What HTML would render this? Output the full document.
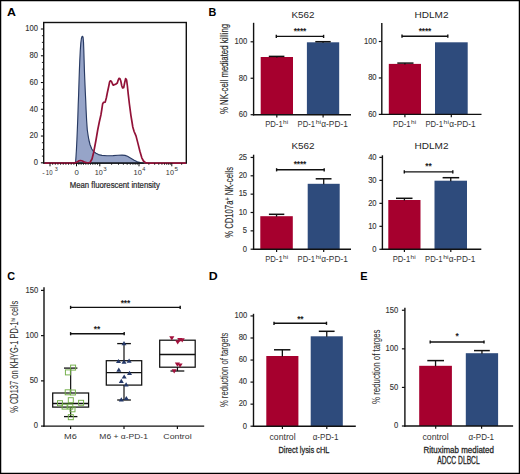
<!DOCTYPE html>
<html><head><meta charset="utf-8"><style>
html,body{margin:0;padding:0;background:#fff;}
body{width:520px;height:474px;overflow:hidden;}
svg{display:block;font-family:"Liberation Sans",sans-serif;}
</style></head><body>
<svg width="520" height="474" viewBox="0 0 520 474">
<rect x="0" y="0" width="520" height="474" fill="#fff"/>
<text x="6.99" y="15.9" font-size="11.2" fill="#000" font-weight="bold" textLength="8.95" lengthAdjust="spacingAndGlyphs">A</text>
<text x="208.6" y="16" font-size="11.2" fill="#000" font-weight="bold" textLength="7.81" lengthAdjust="spacingAndGlyphs">B</text>
<text x="7.27" y="279.7" font-size="11.2" fill="#000" font-weight="bold" textLength="7.83" lengthAdjust="spacingAndGlyphs">C</text>
<text x="208.8" y="279.6" font-size="11.2" fill="#000" font-weight="bold" textLength="8.92" lengthAdjust="spacingAndGlyphs">D</text>
<text x="360.29" y="279.7" font-size="11.2" fill="#000" font-weight="bold" textLength="7.32" lengthAdjust="spacingAndGlyphs">E</text>
<path d="M44.5 163.1 L74.5 163.1 L75.6 162.4 L75.9 158 L76.4 150 L76.9 140 L77.4 128 L77.8 118 L78.2 105 L78.6 95 L79 82 L79.4 70 L79.8 60 L80.3 50 L80.8 43 L81.4 38.5 L82 36.6 L82.6 36.3 L83.1 37.5 L83.5 42 L83.8 50 L84.1 60 L84.4 70 L84.8 80 L85.3 92 L85.7 100 L86.1 110 L86.6 120 L87.3 130 L88.2 136 L88.9 140 L90 144.5 L91.8 149 L93.5 151.5 L96 153.3 L98.5 154.6 L102 155.4 L107 155.8 L113 155.6 L118 155.3 L122 155.1 L125 155.4 L127.5 156.3 L130.4 158 L134.2 160.3 L137.3 161.8 L140.4 162.6 L143.5 163.1 Z" fill="#96a4c8" stroke="#283a63" stroke-width="1.15" stroke-linejoin="round"/>
<rect x="43.7" y="22.5" width="142.6" height="140.6" fill="none" stroke="#111" stroke-width="1.4"/>
<path d="M44.5 163.1 L74 163.1 L77 162.1 L79 160.8 L80.5 160.5 L82.5 161 L84.5 162.2 L87 162.8 L90 162.5 L92 159 L93.5 153 L94.5 148 L96 140 L97.7 130 L99.3 122 L100.9 115 L101.8 109.5 L102.6 104 L103.5 102.4 L105.2 102.1 L106.3 98 L107.5 92 L108.7 86.5 L109.6 82 L110.4 80.8 L111.5 81.5 L112.5 84 L113.3 85.2 L114.5 84.6 L115.6 84.2 L117.3 83 L118.2 80 L119 78.3 L120 78.8 L120.8 81 L121.8 86 L122.6 87.8 L123.7 87.6 L124.6 83 L125.6 78.6 L126.6 80 L127.4 86 L128.3 94.6 L129.4 104 L130.9 115.3 L132 122 L132.8 127 L134.1 131.5 L136 135.9 L138 143.6 L139.9 151.3 L141.8 157.8 L143.5 161 L145.5 162.6 L148 163.1 L186 163.1" fill="none" stroke="#921238" stroke-width="1.7" stroke-linejoin="round"/>
<line x1="40.9" y1="162.8" x2="43.7" y2="162.8" stroke="#111" stroke-width="1.1"/>
<text x="33.77" y="165.1" font-size="8.2" fill="#333" stroke="#333" stroke-width="0.12" textLength="4.24" lengthAdjust="spacingAndGlyphs">0</text>
<line x1="41.9" y1="156.11" x2="43.7" y2="156.11" stroke="#111" stroke-width="0.9"/>
<line x1="41.9" y1="149.42" x2="43.7" y2="149.42" stroke="#111" stroke-width="0.9"/>
<line x1="41.9" y1="142.73" x2="43.7" y2="142.73" stroke="#111" stroke-width="0.9"/>
<line x1="40.9" y1="136.04" x2="43.7" y2="136.04" stroke="#111" stroke-width="1.1"/>
<text x="29.54" y="138.34" font-size="8.2" fill="#333" stroke="#333" stroke-width="0.12" textLength="8.48" lengthAdjust="spacingAndGlyphs">20</text>
<line x1="41.9" y1="129.35" x2="43.7" y2="129.35" stroke="#111" stroke-width="0.9"/>
<line x1="41.9" y1="122.66" x2="43.7" y2="122.66" stroke="#111" stroke-width="0.9"/>
<line x1="41.9" y1="115.97" x2="43.7" y2="115.97" stroke="#111" stroke-width="0.9"/>
<line x1="40.9" y1="109.28" x2="43.7" y2="109.28" stroke="#111" stroke-width="1.1"/>
<text x="29.54" y="111.58" font-size="8.2" fill="#333" stroke="#333" stroke-width="0.12" textLength="8.48" lengthAdjust="spacingAndGlyphs">40</text>
<line x1="41.9" y1="102.59" x2="43.7" y2="102.59" stroke="#111" stroke-width="0.9"/>
<line x1="41.9" y1="95.9" x2="43.7" y2="95.9" stroke="#111" stroke-width="0.9"/>
<line x1="41.9" y1="89.21" x2="43.7" y2="89.21" stroke="#111" stroke-width="0.9"/>
<line x1="40.9" y1="82.52" x2="43.7" y2="82.52" stroke="#111" stroke-width="1.1"/>
<text x="29.54" y="84.82" font-size="8.2" fill="#333" stroke="#333" stroke-width="0.12" textLength="8.48" lengthAdjust="spacingAndGlyphs">60</text>
<line x1="41.9" y1="75.83" x2="43.7" y2="75.83" stroke="#111" stroke-width="0.9"/>
<line x1="41.9" y1="69.14" x2="43.7" y2="69.14" stroke="#111" stroke-width="0.9"/>
<line x1="41.9" y1="62.45" x2="43.7" y2="62.45" stroke="#111" stroke-width="0.9"/>
<line x1="40.9" y1="55.76" x2="43.7" y2="55.76" stroke="#111" stroke-width="1.1"/>
<text x="29.54" y="58.06" font-size="8.2" fill="#333" stroke="#333" stroke-width="0.12" textLength="8.48" lengthAdjust="spacingAndGlyphs">80</text>
<line x1="41.9" y1="49.07" x2="43.7" y2="49.07" stroke="#111" stroke-width="0.9"/>
<line x1="41.9" y1="42.38" x2="43.7" y2="42.38" stroke="#111" stroke-width="0.9"/>
<line x1="41.9" y1="35.69" x2="43.7" y2="35.69" stroke="#111" stroke-width="0.9"/>
<line x1="40.9" y1="29" x2="43.7" y2="29" stroke="#111" stroke-width="1.1"/>
<text x="25.31" y="31.3" font-size="8.2" fill="#333" stroke="#333" stroke-width="0.12" textLength="12.72" lengthAdjust="spacingAndGlyphs">100</text>
<line x1="52.65" y1="163.1" x2="52.65" y2="165" stroke="#111" stroke-width="0.7"/>
<line x1="55.3" y1="163.1" x2="55.3" y2="165" stroke="#111" stroke-width="0.7"/>
<line x1="57.95" y1="163.1" x2="57.95" y2="165" stroke="#111" stroke-width="0.7"/>
<line x1="60.6" y1="163.1" x2="60.6" y2="165" stroke="#111" stroke-width="0.7"/>
<line x1="63.25" y1="163.1" x2="63.25" y2="165" stroke="#111" stroke-width="0.7"/>
<line x1="65.9" y1="163.1" x2="65.9" y2="165" stroke="#111" stroke-width="0.7"/>
<line x1="68.55" y1="163.1" x2="68.55" y2="165" stroke="#111" stroke-width="0.7"/>
<line x1="71.2" y1="163.1" x2="71.2" y2="165" stroke="#111" stroke-width="0.7"/>
<line x1="73.85" y1="163.1" x2="73.85" y2="165" stroke="#111" stroke-width="0.7"/>
<line x1="78.83" y1="163.1" x2="78.83" y2="165" stroke="#111" stroke-width="0.7"/>
<line x1="81.16" y1="163.1" x2="81.16" y2="165" stroke="#111" stroke-width="0.7"/>
<line x1="83.49" y1="163.1" x2="83.49" y2="165" stroke="#111" stroke-width="0.7"/>
<line x1="85.82" y1="163.1" x2="85.82" y2="165" stroke="#111" stroke-width="0.7"/>
<line x1="88.15" y1="163.1" x2="88.15" y2="165" stroke="#111" stroke-width="0.7"/>
<line x1="90.48" y1="163.1" x2="90.48" y2="165" stroke="#111" stroke-width="0.7"/>
<line x1="92.81" y1="163.1" x2="92.81" y2="165" stroke="#111" stroke-width="0.7"/>
<line x1="95.14" y1="163.1" x2="95.14" y2="165" stroke="#111" stroke-width="0.7"/>
<line x1="97.47" y1="163.1" x2="97.47" y2="165" stroke="#111" stroke-width="0.7"/>
<line x1="111.6" y1="163.1" x2="111.6" y2="165" stroke="#111" stroke-width="0.7"/>
<line x1="118.5" y1="163.1" x2="118.5" y2="165" stroke="#111" stroke-width="0.7"/>
<line x1="123.4" y1="163.1" x2="123.4" y2="165" stroke="#111" stroke-width="0.7"/>
<line x1="127.2" y1="163.1" x2="127.2" y2="165" stroke="#111" stroke-width="0.7"/>
<line x1="130.3" y1="163.1" x2="130.3" y2="165" stroke="#111" stroke-width="0.7"/>
<line x1="132.93" y1="163.1" x2="132.93" y2="165" stroke="#111" stroke-width="0.7"/>
<line x1="135.2" y1="163.1" x2="135.2" y2="165" stroke="#111" stroke-width="0.7"/>
<line x1="137.21" y1="163.1" x2="137.21" y2="165" stroke="#111" stroke-width="0.7"/>
<line x1="148.87" y1="163.1" x2="148.87" y2="165" stroke="#111" stroke-width="0.7"/>
<line x1="154.65" y1="163.1" x2="154.65" y2="165" stroke="#111" stroke-width="0.7"/>
<line x1="158.75" y1="163.1" x2="158.75" y2="165" stroke="#111" stroke-width="0.7"/>
<line x1="161.93" y1="163.1" x2="161.93" y2="165" stroke="#111" stroke-width="0.7"/>
<line x1="164.52" y1="163.1" x2="164.52" y2="165" stroke="#111" stroke-width="0.7"/>
<line x1="166.72" y1="163.1" x2="166.72" y2="165" stroke="#111" stroke-width="0.7"/>
<line x1="168.62" y1="163.1" x2="168.62" y2="165" stroke="#111" stroke-width="0.7"/>
<line x1="170.3" y1="163.1" x2="170.3" y2="165" stroke="#111" stroke-width="0.7"/>
<line x1="181.67" y1="163.1" x2="181.67" y2="165" stroke="#111" stroke-width="0.7"/>
<line x1="50" y1="163.1" x2="50" y2="166.3" stroke="#111" stroke-width="1"/>
<line x1="76.5" y1="163.1" x2="76.5" y2="166.3" stroke="#111" stroke-width="1"/>
<line x1="99.8" y1="163.1" x2="99.8" y2="166.3" stroke="#111" stroke-width="1"/>
<line x1="139" y1="163.1" x2="139" y2="166.3" stroke="#111" stroke-width="1"/>
<line x1="171.8" y1="163.1" x2="171.8" y2="166.3" stroke="#111" stroke-width="1"/>
<text x="42.17" y="174.6" font-size="8" fill="#333" textLength="2.45" lengthAdjust="spacingAndGlyphs">-</text>
<text x="45.85" y="174.6" font-size="8" fill="#333" textLength="6.71" lengthAdjust="spacingAndGlyphs">10</text>
<text x="54.78" y="171.2" font-size="6.2" fill="#333" textLength="3.08" lengthAdjust="spacingAndGlyphs">3</text>
<text x="74.49" y="174.6" font-size="8" fill="#333" textLength="4.33" lengthAdjust="spacingAndGlyphs">0</text>
<text x="94.66" y="174.6" font-size="8" fill="#333" textLength="8.05" lengthAdjust="spacingAndGlyphs">10</text>
<text x="103.15" y="171.2" font-size="6.2" fill="#333" textLength="3.43" lengthAdjust="spacingAndGlyphs">3</text>
<text x="133.54" y="174.6" font-size="8" fill="#333" textLength="8.27" lengthAdjust="spacingAndGlyphs">10</text>
<text x="142.36" y="171.2" font-size="6.2" fill="#333" textLength="3.11" lengthAdjust="spacingAndGlyphs">4</text>
<text x="165.86" y="174.6" font-size="8" fill="#333" textLength="8.05" lengthAdjust="spacingAndGlyphs">10</text>
<text x="174.55" y="171.2" font-size="6.2" fill="#333" textLength="3.51" lengthAdjust="spacingAndGlyphs">5</text>
<text x="69.68" y="188.3" font-size="9.6" fill="#2a2a2a" stroke="#2a2a2a" stroke-width="0.24" textLength="90.18" lengthAdjust="spacingAndGlyphs">Mean fluorescent intensity</text>
<rect x="260.7" y="57" width="32.3" height="57.7" fill="#a6002e"/>
<line x1="276.85" y1="57.5" x2="276.85" y2="56.4" stroke="#111" stroke-width="1.3"/>
<line x1="268.8" y1="56.4" x2="284.4" y2="56.4" stroke="#111" stroke-width="1.5"/>
<rect x="306.9" y="42.3" width="32.3" height="72.4" fill="#2e4b7c"/>
<line x1="323.05" y1="42.8" x2="323.05" y2="41.7" stroke="#111" stroke-width="1.3"/>
<line x1="315.3" y1="41.7" x2="330.7" y2="41.7" stroke="#111" stroke-width="1.5"/>
<line x1="253.6" y1="22.8" x2="253.6" y2="115.4" stroke="#111" stroke-width="1.4"/>
<line x1="252.9" y1="114.7" x2="351" y2="114.7" stroke="#111" stroke-width="1.4"/>
<line x1="250.6" y1="114.7" x2="253.6" y2="114.7" stroke="#111" stroke-width="1.2"/>
<text x="238.84" y="117" font-size="8.2" fill="#333" stroke="#333" stroke-width="0.12" textLength="8.48" lengthAdjust="spacingAndGlyphs">60</text>
<line x1="250.6" y1="78.25" x2="253.6" y2="78.25" stroke="#111" stroke-width="1.2"/>
<text x="238.84" y="80.55" font-size="8.2" fill="#333" stroke="#333" stroke-width="0.12" textLength="8.48" lengthAdjust="spacingAndGlyphs">80</text>
<line x1="250.6" y1="41.8" x2="253.6" y2="41.8" stroke="#111" stroke-width="1.2"/>
<text x="234.61" y="44.1" font-size="8.2" fill="#333" stroke="#333" stroke-width="0.12" textLength="12.72" lengthAdjust="spacingAndGlyphs">100</text>
<line x1="276.8" y1="114.7" x2="276.8" y2="117.5" stroke="#111" stroke-width="1.2"/>
<line x1="323.1" y1="114.7" x2="323.1" y2="117.5" stroke="#111" stroke-width="1.2"/>
<line x1="276.3" y1="36.4" x2="323.6" y2="36.4" stroke="#111" stroke-width="1.4"/>
<line x1="276.3" y1="34.8" x2="276.3" y2="38" stroke="#111" stroke-width="1.4"/>
<line x1="323.6" y1="34.8" x2="323.6" y2="38" stroke="#111" stroke-width="1.4"/>
<text x="295.27" y="33.5" font-size="8.4" font-weight="bold" text-anchor="middle" fill="#222">*</text>
<text x="298.42" y="33.5" font-size="8.4" font-weight="bold" text-anchor="middle" fill="#222">*</text>
<text x="301.57" y="33.5" font-size="8.4" font-weight="bold" text-anchor="middle" fill="#222">*</text>
<text x="304.72" y="33.5" font-size="8.4" font-weight="bold" text-anchor="middle" fill="#222">*</text>
<text x="291.51" y="17.7" font-size="9.7" fill="#262626" textLength="22.98" lengthAdjust="spacingAndGlyphs">K562</text>
<text x="265.18" y="126.7" font-size="8.4" fill="#333" textLength="17.53" lengthAdjust="spacingAndGlyphs">PD-1</text>
<text x="283.14" y="123.7" font-size="5.7" fill="#333" textLength="5.11" lengthAdjust="spacingAndGlyphs">hi</text>
<text x="297.59" y="126.7" font-size="8.4" fill="#333" textLength="17.42" lengthAdjust="spacingAndGlyphs">PD-1</text>
<text x="315.72" y="123.7" font-size="5.7" fill="#333" textLength="5.35" lengthAdjust="spacingAndGlyphs">hi</text>
<text x="321.27" y="126.7" font-size="8.4" fill="#333" textLength="26.55" lengthAdjust="spacingAndGlyphs">&#945;-PD-1</text>
<text transform="translate(227.8,113.8) rotate(-90)" x="-0.27" y="0" font-size="10.2" fill="#2a2a2a" stroke="#2a2a2a" stroke-width="0.15" textLength="90.28" lengthAdjust="spacingAndGlyphs">% NK-cell mediated killing</text>
<rect x="388.8" y="63.9" width="32.2" height="50.5" fill="#a6002e"/>
<line x1="404.9" y1="64.4" x2="404.9" y2="63.1" stroke="#111" stroke-width="1.3"/>
<line x1="397.3" y1="63.1" x2="413.5" y2="63.1" stroke="#111" stroke-width="1.5"/>
<rect x="435" y="42.3" width="32.7" height="72.1" fill="#2e4b7c"/>
<line x1="381.8" y1="23" x2="381.8" y2="115.1" stroke="#111" stroke-width="1.4"/>
<line x1="381.1" y1="114.4" x2="481.5" y2="114.4" stroke="#111" stroke-width="1.4"/>
<line x1="378.8" y1="114.4" x2="381.8" y2="114.4" stroke="#111" stroke-width="1.2"/>
<text x="368.14" y="116.7" font-size="8.2" fill="#333" stroke="#333" stroke-width="0.12" textLength="8.48" lengthAdjust="spacingAndGlyphs">60</text>
<line x1="378.8" y1="77.95" x2="381.8" y2="77.95" stroke="#111" stroke-width="1.2"/>
<text x="368.14" y="80.25" font-size="8.2" fill="#333" stroke="#333" stroke-width="0.12" textLength="8.48" lengthAdjust="spacingAndGlyphs">80</text>
<line x1="378.8" y1="41.5" x2="381.8" y2="41.5" stroke="#111" stroke-width="1.2"/>
<text x="363.91" y="43.8" font-size="8.2" fill="#333" stroke="#333" stroke-width="0.12" textLength="12.72" lengthAdjust="spacingAndGlyphs">100</text>
<line x1="404.9" y1="114.4" x2="404.9" y2="117.2" stroke="#111" stroke-width="1.2"/>
<line x1="451.3" y1="114.4" x2="451.3" y2="117.2" stroke="#111" stroke-width="1.2"/>
<line x1="402" y1="36.2" x2="447.8" y2="36.2" stroke="#111" stroke-width="1.4"/>
<line x1="402" y1="34.6" x2="402" y2="37.8" stroke="#111" stroke-width="1.4"/>
<line x1="447.8" y1="34.6" x2="447.8" y2="37.8" stroke="#111" stroke-width="1.4"/>
<text x="420.27" y="33.7" font-size="8.4" font-weight="bold" text-anchor="middle" fill="#222">*</text>
<text x="423.42" y="33.7" font-size="8.4" font-weight="bold" text-anchor="middle" fill="#222">*</text>
<text x="426.57" y="33.7" font-size="8.4" font-weight="bold" text-anchor="middle" fill="#222">*</text>
<text x="429.72" y="33.7" font-size="8.4" font-weight="bold" text-anchor="middle" fill="#222">*</text>
<text x="414.6" y="17.7" font-size="9.7" fill="#262626" textLength="33.9" lengthAdjust="spacingAndGlyphs">HDLM2</text>
<text x="393.08" y="126.7" font-size="8.4" fill="#333" textLength="17.53" lengthAdjust="spacingAndGlyphs">PD-1</text>
<text x="411.04" y="123.7" font-size="5.7" fill="#333" textLength="5.11" lengthAdjust="spacingAndGlyphs">hi</text>
<text x="425.49" y="126.7" font-size="8.4" fill="#333" textLength="17.42" lengthAdjust="spacingAndGlyphs">PD-1</text>
<text x="443.62" y="123.7" font-size="5.7" fill="#333" textLength="5.35" lengthAdjust="spacingAndGlyphs">hi</text>
<text x="449.17" y="126.7" font-size="8.4" fill="#333" textLength="26.55" lengthAdjust="spacingAndGlyphs">&#945;-PD-1</text>
<rect x="260.3" y="216.2" width="32.5" height="33" fill="#a6002e"/>
<line x1="276.55" y1="216.7" x2="276.55" y2="214.3" stroke="#111" stroke-width="1.3"/>
<line x1="268.9" y1="214.3" x2="284.3" y2="214.3" stroke="#111" stroke-width="1.5"/>
<rect x="307.7" y="183.8" width="32" height="65.4" fill="#2e4b7c"/>
<line x1="323.7" y1="184.3" x2="323.7" y2="178.8" stroke="#111" stroke-width="1.3"/>
<line x1="315.7" y1="178.8" x2="331.5" y2="178.8" stroke="#111" stroke-width="1.5"/>
<line x1="253.6" y1="154.7" x2="253.6" y2="249.9" stroke="#111" stroke-width="1.4"/>
<line x1="252.9" y1="249.2" x2="351" y2="249.2" stroke="#111" stroke-width="1.4"/>
<line x1="250.6" y1="249.2" x2="253.6" y2="249.2" stroke="#111" stroke-width="1.2"/>
<text x="242.87" y="251.5" font-size="8.2" fill="#333" stroke="#333" stroke-width="0.12" textLength="4.24" lengthAdjust="spacingAndGlyphs">0</text>
<line x1="250.6" y1="230.85" x2="253.6" y2="230.85" stroke="#111" stroke-width="1.2"/>
<text x="242.87" y="233.15" font-size="8.2" fill="#333" stroke="#333" stroke-width="0.12" textLength="4.24" lengthAdjust="spacingAndGlyphs">5</text>
<line x1="250.6" y1="212.5" x2="253.6" y2="212.5" stroke="#111" stroke-width="1.2"/>
<text x="238.64" y="214.8" font-size="8.2" fill="#333" stroke="#333" stroke-width="0.12" textLength="8.48" lengthAdjust="spacingAndGlyphs">10</text>
<line x1="250.6" y1="194.15" x2="253.6" y2="194.15" stroke="#111" stroke-width="1.2"/>
<text x="238.64" y="196.45" font-size="8.2" fill="#333" stroke="#333" stroke-width="0.12" textLength="8.48" lengthAdjust="spacingAndGlyphs">15</text>
<line x1="250.6" y1="175.8" x2="253.6" y2="175.8" stroke="#111" stroke-width="1.2"/>
<text x="238.64" y="178.1" font-size="8.2" fill="#333" stroke="#333" stroke-width="0.12" textLength="8.48" lengthAdjust="spacingAndGlyphs">20</text>
<line x1="250.6" y1="157.45" x2="253.6" y2="157.45" stroke="#111" stroke-width="1.2"/>
<text x="238.64" y="159.75" font-size="8.2" fill="#333" stroke="#333" stroke-width="0.12" textLength="8.48" lengthAdjust="spacingAndGlyphs">25</text>
<line x1="276.6" y1="249.2" x2="276.6" y2="252" stroke="#111" stroke-width="1.2"/>
<line x1="323.7" y1="249.2" x2="323.7" y2="252" stroke="#111" stroke-width="1.2"/>
<line x1="276.6" y1="169.8" x2="324.2" y2="169.8" stroke="#111" stroke-width="1.4"/>
<line x1="276.6" y1="168.2" x2="276.6" y2="171.4" stroke="#111" stroke-width="1.4"/>
<line x1="324.2" y1="168.2" x2="324.2" y2="171.4" stroke="#111" stroke-width="1.4"/>
<text x="295.27" y="167.3" font-size="8.4" font-weight="bold" text-anchor="middle" fill="#222">*</text>
<text x="298.42" y="167.3" font-size="8.4" font-weight="bold" text-anchor="middle" fill="#222">*</text>
<text x="301.57" y="167.3" font-size="8.4" font-weight="bold" text-anchor="middle" fill="#222">*</text>
<text x="304.72" y="167.3" font-size="8.4" font-weight="bold" text-anchor="middle" fill="#222">*</text>
<text x="291.41" y="149.4" font-size="9.7" fill="#262626" textLength="23.09" lengthAdjust="spacingAndGlyphs">K562</text>
<text x="265.18" y="262" font-size="8.4" fill="#333" textLength="17.53" lengthAdjust="spacingAndGlyphs">PD-1</text>
<text x="283.14" y="259" font-size="5.7" fill="#333" textLength="5.11" lengthAdjust="spacingAndGlyphs">hi</text>
<text x="297.59" y="262" font-size="8.4" fill="#333" textLength="17.42" lengthAdjust="spacingAndGlyphs">PD-1</text>
<text x="315.72" y="259" font-size="5.7" fill="#333" textLength="5.35" lengthAdjust="spacingAndGlyphs">hi</text>
<text x="321.27" y="262" font-size="8.4" fill="#333" textLength="26.55" lengthAdjust="spacingAndGlyphs">&#945;-PD-1</text>
<text transform="translate(232.6,237.4) rotate(-90)" x="-0.27" y="0" font-size="10.6" fill="#2a2a2a" stroke="#2a2a2a" stroke-width="0.15" textLength="37.06" lengthAdjust="spacingAndGlyphs" xml:space="preserve">% CD107a</text>
<text transform="translate(232.6,237.4) rotate(-90)" x="36.79" y="-3" font-size="7.4" fill="#2a2a2a" stroke="#2a2a2a" stroke-width="0.15" textLength="3.12" lengthAdjust="spacingAndGlyphs" xml:space="preserve">+</text>
<text transform="translate(232.6,237.4) rotate(-90)" x="39.92" y="0" font-size="10.6" fill="#2a2a2a" stroke="#2a2a2a" stroke-width="0.15" textLength="30.66" lengthAdjust="spacingAndGlyphs" xml:space="preserve"> NK-cells</text>
<rect x="388.3" y="200" width="32.2" height="49.3" fill="#a6002e"/>
<line x1="404.4" y1="200.5" x2="404.4" y2="198.3" stroke="#111" stroke-width="1.3"/>
<line x1="396" y1="198.3" x2="412.5" y2="198.3" stroke="#111" stroke-width="1.5"/>
<rect x="434.5" y="180.7" width="32.5" height="68.6" fill="#2e4b7c"/>
<line x1="450.75" y1="181.2" x2="450.75" y2="177.7" stroke="#111" stroke-width="1.3"/>
<line x1="442.6" y1="177.7" x2="459.2" y2="177.7" stroke="#111" stroke-width="1.5"/>
<line x1="382.4" y1="155.3" x2="382.4" y2="250" stroke="#111" stroke-width="1.4"/>
<line x1="381.7" y1="249.3" x2="481.3" y2="249.3" stroke="#111" stroke-width="1.4"/>
<line x1="379.4" y1="249.3" x2="382.4" y2="249.3" stroke="#111" stroke-width="1.2"/>
<text x="372.37" y="251.6" font-size="8.2" fill="#333" stroke="#333" stroke-width="0.12" textLength="4.24" lengthAdjust="spacingAndGlyphs">0</text>
<line x1="379.4" y1="226.33" x2="382.4" y2="226.33" stroke="#111" stroke-width="1.2"/>
<text x="368.14" y="228.63" font-size="8.2" fill="#333" stroke="#333" stroke-width="0.12" textLength="8.48" lengthAdjust="spacingAndGlyphs">10</text>
<line x1="379.4" y1="203.35" x2="382.4" y2="203.35" stroke="#111" stroke-width="1.2"/>
<text x="368.14" y="205.65" font-size="8.2" fill="#333" stroke="#333" stroke-width="0.12" textLength="8.48" lengthAdjust="spacingAndGlyphs">20</text>
<line x1="379.4" y1="180.38" x2="382.4" y2="180.38" stroke="#111" stroke-width="1.2"/>
<text x="368.14" y="182.68" font-size="8.2" fill="#333" stroke="#333" stroke-width="0.12" textLength="8.48" lengthAdjust="spacingAndGlyphs">30</text>
<line x1="379.4" y1="157.4" x2="382.4" y2="157.4" stroke="#111" stroke-width="1.2"/>
<text x="368.14" y="159.7" font-size="8.2" fill="#333" stroke="#333" stroke-width="0.12" textLength="8.48" lengthAdjust="spacingAndGlyphs">40</text>
<line x1="404.4" y1="249.3" x2="404.4" y2="252.1" stroke="#111" stroke-width="1.2"/>
<line x1="450.8" y1="249.3" x2="450.8" y2="252.1" stroke="#111" stroke-width="1.2"/>
<line x1="404.3" y1="171.9" x2="452.8" y2="171.9" stroke="#111" stroke-width="1.4"/>
<line x1="404.3" y1="170.3" x2="404.3" y2="173.5" stroke="#111" stroke-width="1.4"/>
<line x1="452.8" y1="170.3" x2="452.8" y2="173.5" stroke="#111" stroke-width="1.4"/>
<text x="426.93" y="168.9" font-size="8.4" font-weight="bold" text-anchor="middle" fill="#222">*</text>
<text x="430.07" y="168.9" font-size="8.4" font-weight="bold" text-anchor="middle" fill="#222">*</text>
<text x="414.6" y="149.4" font-size="9.7" fill="#262626" textLength="33.9" lengthAdjust="spacingAndGlyphs">HDLM2</text>
<text x="392.68" y="262" font-size="8.4" fill="#333" textLength="17.53" lengthAdjust="spacingAndGlyphs">PD-1</text>
<text x="410.64" y="259" font-size="5.7" fill="#333" textLength="5.11" lengthAdjust="spacingAndGlyphs">hi</text>
<text x="425.09" y="262" font-size="8.4" fill="#333" textLength="17.42" lengthAdjust="spacingAndGlyphs">PD-1</text>
<text x="443.22" y="259" font-size="5.7" fill="#333" textLength="5.35" lengthAdjust="spacingAndGlyphs">hi</text>
<text x="448.77" y="262" font-size="8.4" fill="#333" textLength="26.55" lengthAdjust="spacingAndGlyphs">&#945;-PD-1</text>
<line x1="44" y1="287.3" x2="44" y2="426.8" stroke="#111" stroke-width="1.4"/>
<line x1="43.3" y1="426.1" x2="204.2" y2="426.1" stroke="#111" stroke-width="1.4"/>
<line x1="41" y1="426.1" x2="44" y2="426.1" stroke="#111" stroke-width="1.2"/>
<text x="33.87" y="428.4" font-size="8.2" fill="#333" stroke="#333" stroke-width="0.12" textLength="4.24" lengthAdjust="spacingAndGlyphs">0</text>
<line x1="41" y1="380.87" x2="44" y2="380.87" stroke="#111" stroke-width="1.2"/>
<text x="29.64" y="383.17" font-size="8.2" fill="#333" stroke="#333" stroke-width="0.12" textLength="8.48" lengthAdjust="spacingAndGlyphs">50</text>
<line x1="41" y1="335.63" x2="44" y2="335.63" stroke="#111" stroke-width="1.2"/>
<text x="25.41" y="337.93" font-size="8.2" fill="#333" stroke="#333" stroke-width="0.12" textLength="12.72" lengthAdjust="spacingAndGlyphs">100</text>
<line x1="41" y1="290.4" x2="44" y2="290.4" stroke="#111" stroke-width="1.2"/>
<text x="25.41" y="292.7" font-size="8.2" fill="#333" stroke="#333" stroke-width="0.12" textLength="12.72" lengthAdjust="spacingAndGlyphs">150</text>
<line x1="70.6" y1="426.1" x2="70.6" y2="429" stroke="#111" stroke-width="1.2"/>
<line x1="124" y1="426.1" x2="124" y2="429" stroke="#111" stroke-width="1.2"/>
<line x1="177.4" y1="426.1" x2="177.4" y2="429" stroke="#111" stroke-width="1.2"/>
<rect x="52.7" y="393" width="35.9" height="14.1" fill="none" stroke="#111" stroke-width="1.25"/>
<line x1="52.7" y1="403.5" x2="88.6" y2="403.5" stroke="#111" stroke-width="1.45"/>
<line x1="70.65" y1="393" x2="70.65" y2="368.1" stroke="#111" stroke-width="1.2"/>
<line x1="64" y1="368.1" x2="77.4" y2="368.1" stroke="#111" stroke-width="1.3"/>
<line x1="70.65" y1="407.1" x2="70.65" y2="416.6" stroke="#111" stroke-width="1.2"/>
<line x1="64" y1="416.6" x2="77.4" y2="416.6" stroke="#111" stroke-width="1.3"/>
<rect x="106.3" y="360.7" width="35.4" height="24.4" fill="none" stroke="#111" stroke-width="1.25"/>
<line x1="106.3" y1="372.6" x2="141.7" y2="372.6" stroke="#111" stroke-width="1.45"/>
<line x1="124" y1="360.7" x2="124" y2="343.6" stroke="#111" stroke-width="1.2"/>
<line x1="117.2" y1="343.6" x2="130.9" y2="343.6" stroke="#111" stroke-width="1.3"/>
<line x1="124" y1="385.1" x2="124" y2="400" stroke="#111" stroke-width="1.2"/>
<line x1="117.2" y1="400" x2="130.9" y2="400" stroke="#111" stroke-width="1.3"/>
<rect x="159.7" y="340.2" width="35.5" height="27" fill="none" stroke="#111" stroke-width="1.25"/>
<line x1="159.7" y1="354.4" x2="195.2" y2="354.4" stroke="#111" stroke-width="1.45"/>
<line x1="177.45" y1="367.2" x2="177.45" y2="371" stroke="#111" stroke-width="1.2"/>
<line x1="170.5" y1="371" x2="184.3" y2="371" stroke="#111" stroke-width="1.3"/>
<rect x="70.6" y="365.1" width="5" height="5" fill="none" stroke="#72ae48" stroke-width="0.95"/>
<rect x="65.4" y="369.9" width="5" height="5" fill="none" stroke="#72ae48" stroke-width="0.95"/>
<rect x="65.2" y="389.8" width="5" height="5" fill="none" stroke="#72ae48" stroke-width="0.95"/>
<rect x="70.4" y="390" width="5" height="5" fill="none" stroke="#72ae48" stroke-width="0.95"/>
<rect x="68.3" y="397.7" width="5" height="5" fill="none" stroke="#72ae48" stroke-width="0.95"/>
<rect x="57.5" y="400.7" width="5" height="5" fill="none" stroke="#72ae48" stroke-width="0.95"/>
<rect x="62.1" y="404.1" width="5" height="5" fill="none" stroke="#72ae48" stroke-width="0.95"/>
<rect x="67.8" y="404.1" width="5" height="5" fill="none" stroke="#72ae48" stroke-width="0.95"/>
<rect x="70" y="406.8" width="5" height="5" fill="none" stroke="#72ae48" stroke-width="0.95"/>
<rect x="78.6" y="400.3" width="5" height="5" fill="none" stroke="#72ae48" stroke-width="0.95"/>
<rect x="68.3" y="414.7" width="5" height="5" fill="none" stroke="#72ae48" stroke-width="0.95"/>
<path d="M124 341 L126.5 345.2 L121.5 345.2 Z" fill="#243868"/>
<path d="M118.5 358.9 L121 363.1 L116 363.1 Z" fill="#243868"/>
<path d="M124 359.6 L126.5 363.8 L121.5 363.8 Z" fill="#243868"/>
<path d="M129.1 358.5 L131.6 362.7 L126.6 362.7 Z" fill="#243868"/>
<path d="M118.8 367.5 L121.3 371.7 L116.3 371.7 Z" fill="#243868"/>
<path d="M129.5 370.8 L132 375 L127 375 Z" fill="#243868"/>
<path d="M124.2 374.4 L126.7 378.6 L121.7 378.6 Z" fill="#243868"/>
<path d="M121.3 378.8 L123.8 383 L118.8 383 Z" fill="#243868"/>
<path d="M126.1 382.2 L128.6 386.4 L123.6 386.4 Z" fill="#243868"/>
<path d="M121.3 397.3 L123.8 401.5 L118.8 401.5 Z" fill="#243868"/>
<path d="M126.3 395.9 L128.8 400.1 L123.8 400.1 Z" fill="#243868"/>
<path d="M171.8 340.4 L174.4 336.2 L169.2 336.2 Z" fill="#a3103c"/>
<path d="M177.7 344.4 L180.3 340.2 L175.1 340.2 Z" fill="#a3103c"/>
<path d="M182.2 342.4 L184.8 338.2 L179.6 338.2 Z" fill="#a3103c"/>
<path d="M179.8 342.2 L182.4 338 L177.2 338 Z" fill="#a3103c"/>
<path d="M177.4 366.8 L180 362.6 L174.8 362.6 Z" fill="#a3103c"/>
<path d="M180 367.8 L182.6 363.6 L177.4 363.6 Z" fill="#a3103c"/>
<path d="M174.2 373.5 L176.8 369.3 L171.6 369.3 Z" fill="#a3103c"/>
<line x1="70.6" y1="307.4" x2="180.2" y2="307.4" stroke="#111" stroke-width="1.4"/>
<line x1="70.6" y1="305.8" x2="70.6" y2="309" stroke="#111" stroke-width="1.4"/>
<line x1="180.2" y1="305.8" x2="180.2" y2="309" stroke="#111" stroke-width="1.4"/>
<text x="122.35" y="306.3" font-size="8.4" font-weight="bold" text-anchor="middle" fill="#222">*</text>
<text x="125.5" y="306.3" font-size="8.4" font-weight="bold" text-anchor="middle" fill="#222">*</text>
<text x="128.65" y="306.3" font-size="8.4" font-weight="bold" text-anchor="middle" fill="#222">*</text>
<line x1="70.6" y1="333.7" x2="124.2" y2="333.7" stroke="#111" stroke-width="1.4"/>
<line x1="70.6" y1="332.1" x2="70.6" y2="335.3" stroke="#111" stroke-width="1.4"/>
<line x1="124.2" y1="332.1" x2="124.2" y2="335.3" stroke="#111" stroke-width="1.4"/>
<text x="95.42" y="331.8" font-size="8.4" font-weight="bold" text-anchor="middle" fill="#222">*</text>
<text x="98.58" y="331.8" font-size="8.4" font-weight="bold" text-anchor="middle" fill="#222">*</text>
<text x="64.07" y="439.2" font-size="7.8" fill="#333" textLength="12.74" lengthAdjust="spacingAndGlyphs">M6</text>
<text x="99.32" y="439.2" font-size="7.8" fill="#333" textLength="48.63" lengthAdjust="spacingAndGlyphs">M6 + &#945;-PD-1</text>
<text x="163.36" y="439.2" font-size="7.8" fill="#333" textLength="28.24" lengthAdjust="spacingAndGlyphs">Control</text>
<text transform="translate(18.3,412.6) rotate(-90)" x="-0.26" y="0" font-size="10.4" fill="#2e2e2e" stroke="#2e2e2e" stroke-width="0.05" textLength="91.49" lengthAdjust="spacingAndGlyphs" xml:space="preserve">% CD137 on KHYG-1 PD-1</text>
<text transform="translate(18.3,412.6) rotate(-90)" x="91.23" y="-3.6" font-size="6.2" fill="#2e2e2e" stroke="#2e2e2e" stroke-width="0.05" textLength="3.47" lengthAdjust="spacingAndGlyphs" xml:space="preserve">hi</text>
<text transform="translate(18.3,412.6) rotate(-90)" x="94.7" y="0" font-size="10.4" fill="#2e2e2e" stroke="#2e2e2e" stroke-width="0.05" textLength="17.05" lengthAdjust="spacingAndGlyphs" xml:space="preserve"> cells</text>
<rect x="266.3" y="356" width="32.1" height="70.2" fill="#a6002e"/>
<line x1="282.35" y1="356.5" x2="282.35" y2="349.8" stroke="#111" stroke-width="1.3"/>
<line x1="274" y1="349.8" x2="290.4" y2="349.8" stroke="#111" stroke-width="1.5"/>
<rect x="310.7" y="336.3" width="32.1" height="89.9" fill="#2e4b7c"/>
<line x1="326.75" y1="336.8" x2="326.75" y2="331.3" stroke="#111" stroke-width="1.3"/>
<line x1="318.8" y1="331.3" x2="334.6" y2="331.3" stroke="#111" stroke-width="1.5"/>
<line x1="253.5" y1="313.8" x2="253.5" y2="426.9" stroke="#111" stroke-width="1.4"/>
<line x1="252.8" y1="426.2" x2="355.8" y2="426.2" stroke="#111" stroke-width="1.4"/>
<line x1="250.5" y1="426.2" x2="253.5" y2="426.2" stroke="#111" stroke-width="1.2"/>
<text x="242.87" y="428.5" font-size="8.2" fill="#333" stroke="#333" stroke-width="0.12" textLength="4.24" lengthAdjust="spacingAndGlyphs">0</text>
<line x1="250.5" y1="404.15" x2="253.5" y2="404.15" stroke="#111" stroke-width="1.2"/>
<text x="238.64" y="406.45" font-size="8.2" fill="#333" stroke="#333" stroke-width="0.12" textLength="8.48" lengthAdjust="spacingAndGlyphs">20</text>
<line x1="250.5" y1="382.1" x2="253.5" y2="382.1" stroke="#111" stroke-width="1.2"/>
<text x="238.64" y="384.4" font-size="8.2" fill="#333" stroke="#333" stroke-width="0.12" textLength="8.48" lengthAdjust="spacingAndGlyphs">40</text>
<line x1="250.5" y1="360.05" x2="253.5" y2="360.05" stroke="#111" stroke-width="1.2"/>
<text x="238.64" y="362.35" font-size="8.2" fill="#333" stroke="#333" stroke-width="0.12" textLength="8.48" lengthAdjust="spacingAndGlyphs">60</text>
<line x1="250.5" y1="338" x2="253.5" y2="338" stroke="#111" stroke-width="1.2"/>
<text x="238.64" y="340.3" font-size="8.2" fill="#333" stroke="#333" stroke-width="0.12" textLength="8.48" lengthAdjust="spacingAndGlyphs">80</text>
<line x1="250.5" y1="315.95" x2="253.5" y2="315.95" stroke="#111" stroke-width="1.2"/>
<text x="234.41" y="318.25" font-size="8.2" fill="#333" stroke="#333" stroke-width="0.12" textLength="12.72" lengthAdjust="spacingAndGlyphs">100</text>
<line x1="282.4" y1="426.2" x2="282.4" y2="429" stroke="#111" stroke-width="1.2"/>
<line x1="326.8" y1="426.2" x2="326.8" y2="429" stroke="#111" stroke-width="1.2"/>
<line x1="274" y1="323.3" x2="326.5" y2="323.3" stroke="#111" stroke-width="1.4"/>
<line x1="274" y1="321.7" x2="274" y2="324.9" stroke="#111" stroke-width="1.4"/>
<line x1="326.5" y1="321.7" x2="326.5" y2="324.9" stroke="#111" stroke-width="1.4"/>
<text x="298.82" y="322.2" font-size="8.4" font-weight="bold" text-anchor="middle" fill="#222">*</text>
<text x="301.97" y="322.2" font-size="8.4" font-weight="bold" text-anchor="middle" fill="#222">*</text>
<text x="269.51" y="439.6" font-size="8.4" fill="#333" textLength="26.07" lengthAdjust="spacingAndGlyphs">control</text>
<text x="312.68" y="439.6" font-size="8.4" fill="#333" textLength="25.83" lengthAdjust="spacingAndGlyphs">&#945;-PD-1</text>
<text x="278.41" y="452.5" font-size="9.8" fill="#262626" stroke="#262626" stroke-width="0.3" textLength="51.01" lengthAdjust="spacingAndGlyphs">Direct lysis cHL</text>
<text transform="translate(227.9,406.8) rotate(-90)" x="-0.27" y="0" font-size="10.2" fill="#2e2e2e" stroke="#2e2e2e" stroke-width="0.05" textLength="74.42" lengthAdjust="spacingAndGlyphs">% reduction of targets</text>
<rect x="419.2" y="365.8" width="32.7" height="60.2" fill="#a6002e"/>
<line x1="435.55" y1="366.3" x2="435.55" y2="360.6" stroke="#111" stroke-width="1.3"/>
<line x1="427.3" y1="360.6" x2="444" y2="360.6" stroke="#111" stroke-width="1.5"/>
<rect x="465.8" y="353.2" width="32.3" height="72.8" fill="#2e4b7c"/>
<line x1="481.95" y1="353.7" x2="481.95" y2="350.6" stroke="#111" stroke-width="1.3"/>
<line x1="474" y1="350.6" x2="489.8" y2="350.6" stroke="#111" stroke-width="1.5"/>
<line x1="404.9" y1="307.7" x2="404.9" y2="426.7" stroke="#111" stroke-width="1.4"/>
<line x1="404.2" y1="426" x2="513.1" y2="426" stroke="#111" stroke-width="1.4"/>
<line x1="401.9" y1="426" x2="404.9" y2="426" stroke="#111" stroke-width="1.2"/>
<text x="393.97" y="428.3" font-size="8.2" fill="#333" stroke="#333" stroke-width="0.12" textLength="4.24" lengthAdjust="spacingAndGlyphs">0</text>
<line x1="401.9" y1="387.42" x2="404.9" y2="387.42" stroke="#111" stroke-width="1.2"/>
<text x="389.74" y="389.72" font-size="8.2" fill="#333" stroke="#333" stroke-width="0.12" textLength="8.48" lengthAdjust="spacingAndGlyphs">50</text>
<line x1="401.9" y1="348.83" x2="404.9" y2="348.83" stroke="#111" stroke-width="1.2"/>
<text x="385.51" y="351.13" font-size="8.2" fill="#333" stroke="#333" stroke-width="0.12" textLength="12.72" lengthAdjust="spacingAndGlyphs">100</text>
<line x1="401.9" y1="310.25" x2="404.9" y2="310.25" stroke="#111" stroke-width="1.2"/>
<text x="385.51" y="312.55" font-size="8.2" fill="#333" stroke="#333" stroke-width="0.12" textLength="12.72" lengthAdjust="spacingAndGlyphs">150</text>
<line x1="435.7" y1="426" x2="435.7" y2="428.8" stroke="#111" stroke-width="1.2"/>
<line x1="481.6" y1="426" x2="481.6" y2="428.8" stroke="#111" stroke-width="1.2"/>
<line x1="430.2" y1="342" x2="484" y2="342" stroke="#111" stroke-width="1.4"/>
<line x1="430.2" y1="340.4" x2="430.2" y2="343.6" stroke="#111" stroke-width="1.4"/>
<line x1="484" y1="340.4" x2="484" y2="343.6" stroke="#111" stroke-width="1.4"/>
<text x="457.1" y="338.5" font-size="8.4" font-weight="bold" text-anchor="middle" fill="#222">*</text>
<text x="422.51" y="439.6" font-size="8.4" fill="#333" textLength="26.07" lengthAdjust="spacingAndGlyphs">control</text>
<text x="468.48" y="439.6" font-size="8.4" fill="#333" textLength="25.62" lengthAdjust="spacingAndGlyphs">&#945;-PD-1</text>
<text x="423.56" y="452.6" font-size="9.8" fill="#262626" stroke="#262626" stroke-width="0.3" textLength="70.38" lengthAdjust="spacingAndGlyphs">Rituximab mediated</text>
<text x="437.17" y="464.1" font-size="10" fill="#262626" stroke="#262626" stroke-width="0.3" textLength="42.54" lengthAdjust="spacingAndGlyphs">ADCC DLBCL</text>
<text transform="translate(379.5,403.7) rotate(-90)" x="-0.28" y="0" font-size="10.2" fill="#2e2e2e" stroke="#2e2e2e" stroke-width="0.05" textLength="74.45" lengthAdjust="spacingAndGlyphs">% reduction of targes</text>
<rect x="0.6" y="0.6" width="518.8" height="472.8" fill="none" stroke="#000" stroke-width="1.3"/>
</svg>
</body></html>
